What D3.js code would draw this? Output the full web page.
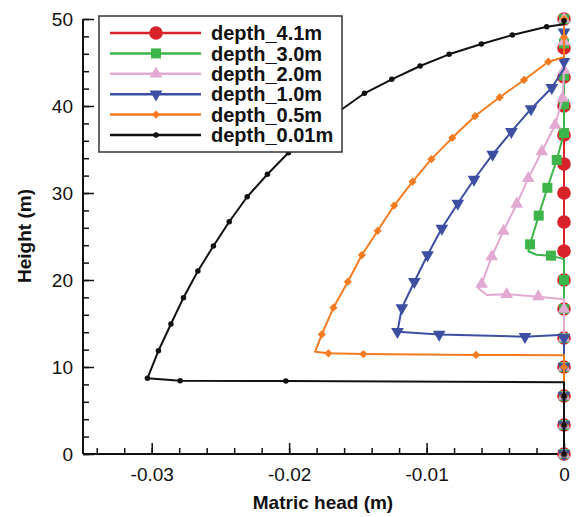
<!DOCTYPE html>
<html>
<head>
<meta charset="utf-8">
<script src="https://cdn.jsdelivr.net/npm/d3@7"></script>
<style>
body { margin: 0; background: #fff; }
text { font-family: Arial, "Liberation Sans", sans-serif; }
</style>
</head>
<body>
<script>
// [matric head (m), height (m), has marker]
var depth41 = [[0,0,1],[0,3.33,1],[0,6.67,1],[0,10,1],[0,13.33,1],[0,16.67,1],[0,20,1],[0,23.33,1],
    [0,26.67,1],[0,30,1],[0,33.33,1],[0,36.67,1],[0,40,1],[0,43.33,1],[0,46.67,1],[0,50,1]];

var depth30 = [[0,0,1],[0,3.33,1],[0,6.67,1],[0,10,1],[0,13.33,1],[0,16.67,1],[0,20,1],[0,22.4,0],
    [-0.00095,22.8,1],[-0.0020,22.9,0],[-0.0026,23.3,0],[-0.00247,24.1,1],[-0.00184,27.4,1],
    [-0.00121,30.6,1],[-0.00053,33.8,1],[0,36.9,1],[0,40.2,1],[0,43.5,1],[0,47.2,1],[0,50,1]];

var depth20 = [[0,0,1],[0,3.33,1],[0,6.67,1],[0,10,1],[0,13.33,1],[0,16.67,1],[0,17.8,0],
    [-0.00187,18.08,1],[-0.00417,18.36,1],[-0.00562,18.28,0],[-0.00623,19.05,0],[-0.00599,19.54,1],
    [-0.00526,22.68,1],[-0.00441,25.63,1],[-0.00344,28.74,1],[-0.00260,31.69,1],[-0.00162,34.75,1],
    [-0.00065,37.82,1],[-0.0001,40.9,1],[0,44.1,1],[0,47.4,1],[0,50,1]];

var depth10 = [[0,0,1],[0,3.33,1],[0,6.67,1],[0,10,1],[0,13.33,1],[0,13.7,0],
    [-0.00284,13.48,1],[-0.00908,13.74,1],[-0.01212,14.06,1],[-0.01180,16.78,1],[-0.01089,19.80,1],
    [-0.00993,22.87,1],[-0.00889,25.94,1],[-0.00773,28.79,1],[-0.00655,31.55,1],[-0.00519,34.43,1],
    [-0.00383,37.05,1],[-0.00240,39.66,1],[-0.00089,42.10,1],[0,44.3,0],[0,45.1,1],[0,48.5,1],[0,50,0]];

var depth05 = [[0,0,1],[0,3.33,1],[0,6.67,1],[0,10,1],[0,11.35,0],
    [-0.00640,11.38,1],[-0.01460,11.49,1],[-0.01714,11.57,1],[-0.01811,11.76,0],[-0.01762,13.76,1],
    [-0.01678,16.82,1],[-0.01573,19.80,1],[-0.01471,22.87,1],[-0.01356,25.66,1],[-0.01236,28.56,1],
    [-0.01102,31.30,1],[-0.00965,33.89,1],[-0.00813,36.34,1],[-0.00647,38.85,1],[-0.00468,41.0,1],
    [-0.00291,42.99,1],[-0.00114,45.09,1],[0,45.6,0],[0,47.9,1],[0,50,1]];

var depth001 = [[0,0,1],[0,3.33,1],[0,6.67,1],[0,8.24,0],
    [-0.02024,8.39,1],[-0.02793,8.43,1],[-0.03031,8.70,1],[-0.02951,11.87,1],[-0.02860,14.94,1],
    [-0.02769,17.97,1],[-0.02664,21.03,1],[-0.02551,23.91,1],[-0.02436,26.70,1],[-0.02305,29.57,1],
    [-0.02158,32.16,1],[-0.02005,34.63,1],[-0.01833,36.95,1],[-0.01644,39.31,1],[-0.01452,41.46,1],
    [-0.01253,43.07,1],[-0.01047,44.60,1],[-0.00836,45.94,1],[-0.00601,47.13,1],[-0.00376,48.16,1],
    [-0.00126,49.11,1],[0,49.4,0],[0,49.8,1]];

var seriesNames = ['depth_4.1m', 'depth_3.0m', 'depth_2.0m', 'depth_1.0m', 'depth_0.5m', 'depth_0.01m'];
var seriesData = [depth41, depth30, depth20, depth10, depth05, depth001];
var colors = ['#d8232a', '#3db54a', '#e2a9d1', '#3d4fa2', '#f47b20', '#111111'];

var xTicks = [-0.03, -0.02, -0.01, 0];
var yTicks = [0, 10, 20, 30, 40, 50];

var svg = d3.select('body').append('svg')
    .attr('width', 582)
    .attr('height', 517);

var x = d3.scaleLinear().domain([-0.035, 0]).range([83, 564]);
var y = d3.scaleLinear().domain([0, 50]).range([454, 19]);

// marker shapes, one per series
var shapes = [
    d3.symbol().type(d3.symbolCircle).size(145),
    d3.symbol().type(d3.symbolSquare).size(100),
    d3.symbol().type(d3.symbolTriangle).size(70),
    d3.symbol().type(d3.symbolTriangle).size(70),
    d3.symbol().type(d3.symbolSquare).size(34),
    d3.symbol().type(d3.symbolCircle).size(24)
];
var rotations = [0, 0, 0, 180, 45, 0];

// axes: ticks point inward
var xAxis = d3.axisTop(x).tickValues(d3.range(-0.034, 0.0001, 0.002)).tickSize(6).tickFormat('');
var xAxisMajor = d3.axisBottom(x).tickValues(xTicks).tickSizeInner(-11).tickSizeOuter(0)
    .tickPadding(14).tickFormat(function(d) { return d === 0 ? '0' : d.toFixed(2); });
var yAxis = d3.axisRight(y).tickValues(d3.range(0, 50.1, 2)).tickSize(6).tickFormat('');
var yAxisMajor = d3.axisLeft(y).tickValues(yTicks).tickSizeInner(-11).tickSizeOuter(0).tickPadding(10);

svg.append('g').attr('transform', 'translate(0,454)').call(xAxis)
    .call(function(g) { g.select('.domain').remove(); });
svg.append('g').attr('transform', 'translate(83,0)').call(yAxis)
    .call(function(g) { g.select('.domain').remove(); });
var gx = svg.append('g').attr('transform', 'translate(0,454)').call(xAxisMajor);
var gy = svg.append('g').attr('transform', 'translate(83,0)').call(yAxisMajor);

svg.selectAll('.tick line').attr('stroke', '#111').attr('stroke-width', 1.5);
svg.selectAll('.domain').attr('stroke', '#111').attr('stroke-width', 2);
gx.selectAll('.tick text').attr('font-size', 19).attr('fill', '#111');
gy.selectAll('.tick text').attr('font-size', 19).attr('fill', '#111');
gx.select('.domain').attr('d', 'M83,0H564');
gy.select('.domain').attr('d', 'M0,454V19');

svg.append('text')
    .attr('x', 323).attr('y', 509)
    .attr('text-anchor', 'middle')
    .attr('font-size', 19).attr('font-weight', 'bold').attr('fill', '#111')
    .text('Matric head (m)');

svg.append('text')
    .attr('transform', 'translate(31,236) rotate(-90)')
    .attr('text-anchor', 'middle')
    .attr('font-size', 19).attr('font-weight', 'bold').attr('fill', '#111')
    .text('Height (m)');

var line = d3.line()
    .x(function(d) { return x(d[0]); })
    .y(function(d) { return y(d[1]); });

seriesData.forEach(function(data, i) {
    svg.append('path')
        .datum(data)
        .attr('d', line)
        .attr('fill', 'none')
        .attr('stroke', colors[i])
        .attr('stroke-width', 2)
        .attr('stroke-linejoin', 'round');

    svg.selectAll('.m' + i)
        .data(data.filter(function(d) { return d[2]; }))
        .enter().append('path')
        .attr('class', 'm' + i)
        .attr('d', shapes[i])
        .attr('fill', colors[i])
        .attr('transform', function(d) {
            return 'translate(' + x(d[0]) + ',' + y(d[1]) + ') rotate(' + rotations[i] + ')';
        });
});

// legend
var legend = svg.append('g');
legend.append('rect')
    .attr('x', 99).attr('y', 16)
    .attr('width', 243).attr('height', 136)
    .attr('fill', '#fff')
    .attr('stroke', '#333')
    .attr('stroke-width', 1.5);

seriesNames.forEach(function(name, i) {
    var ly = 33 + i * 20.4;
    legend.append('line')
        .attr('x1', 110).attr('x2', 201)
        .attr('y1', ly).attr('y2', ly)
        .attr('stroke', colors[i])
        .attr('stroke-width', 2.5);
    legend.append('path')
        .attr('d', shapes[i])
        .attr('fill', colors[i])
        .attr('transform', 'translate(156,' + ly + ') rotate(' + rotations[i] + ')');
    legend.append('text')
        .attr('x', 211).attr('y', ly)
        .attr('dy', '0.36em')
        .attr('font-size', 20).attr('font-weight', 'bold').attr('fill', '#111')
        .text(name);
});
</script>
</body>
</html>
